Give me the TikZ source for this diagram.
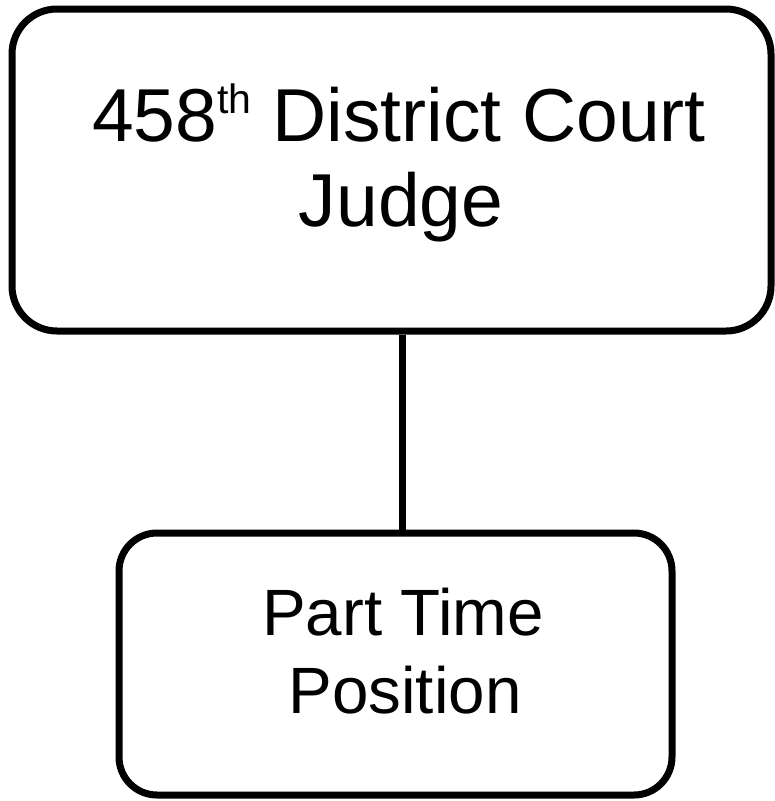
\documentclass[tikz,border=0pt]{standalone}
\usepackage{fontspec}
\setmainfont{Liberation Sans}
\begin{document}
\begin{tikzpicture}[x=1pt,y=-1pt,
  box/.style={draw=black,line width=7pt,rounded corners=#1,inner sep=0pt},
  bigtxt/.style={anchor=base,inner sep=0pt,font=\fontsize{75}{85}\selectfont},
  smalltxt/.style={anchor=base,inner sep=0pt,font=\fontsize{65.5}{78}\selectfont}]
\useasboundingbox (0,0) rectangle (775,801);
% boxes
\node[box=45pt,minimum width=759pt,minimum height=322pt] (top) at (391.5,170) {};
\node[box=38pt,minimum width=553pt,minimum height=262pt] (bot) at (395.5,664) {};
% labels
\node[bigtxt] (t1) at (399,141) {458\raisebox{28pt}{\fontsize{41}{41}\selectfont th} District Court};
\node[bigtxt] (t2) at (401,226) {Judge};
\node[smalltxt] (b1) at (403,635) {Part Time};
\node[smalltxt] (b2) at (405,713) {Position};
% connector
\draw[line width=7pt] ([xshift=11pt]top.south) -- ([xshift=7pt]bot.north);
\end{tikzpicture}
\end{document}
